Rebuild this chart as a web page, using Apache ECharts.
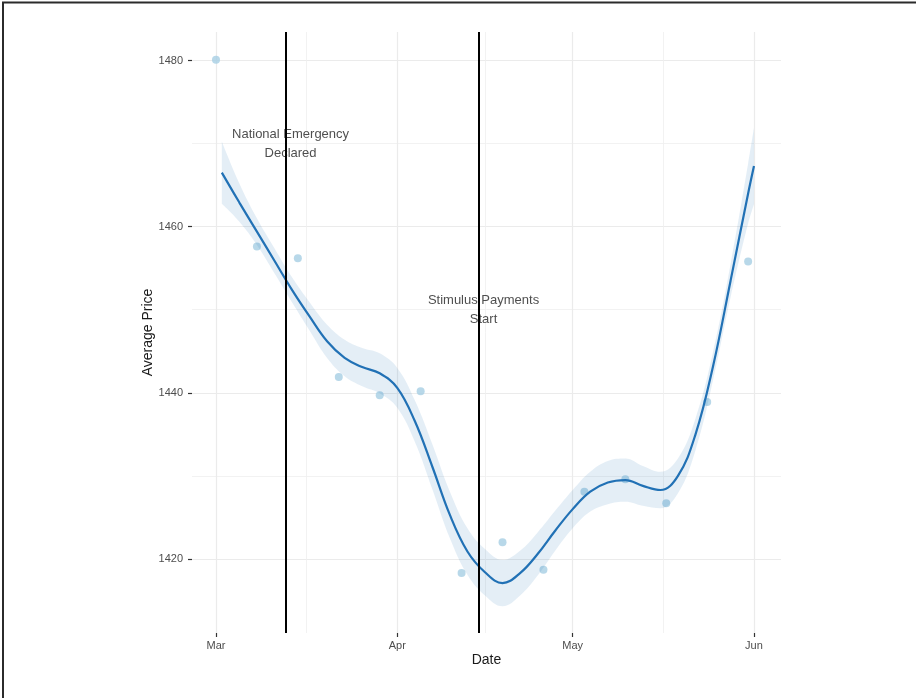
<!DOCTYPE html>
<html><head><meta charset="utf-8">
<script src="https://cdn.jsdelivr.net/npm/echarts@6/dist/echarts.min.js"></script>
<style>html,body{margin:0;padding:0;background:#fff}#c{width:916px;height:698px}</style>
</head><body><div id="c"></div>
<script>
// ---- data ----
const pointDates = ['2020-03-01','2020-03-08','2020-03-15','2020-03-22','2020-03-29','2020-04-05','2020-04-12',
  '2020-04-19','2020-04-26','2020-05-03','2020-05-10','2020-05-17','2020-05-24','2020-05-31'];
const pointValues = [1480.1,1457.6,1456.2,1441.9,1439.7,1440.2,1418.3,1422.0,1418.7,1428.1,1429.6,1426.7,1438.9,1455.8];

const smoothDates = ['2020-03-02','2020-03-05','2020-03-08','2020-03-11','2020-03-14','2020-03-17','2020-03-20',
  '2020-03-23','2020-03-26','2020-03-29','2020-04-01','2020-04-04','2020-04-07','2020-04-10','2020-04-13',
  '2020-04-16','2020-04-19','2020-04-22','2020-04-25','2020-04-28','2020-05-01','2020-05-04','2020-05-07',
  '2020-05-10','2020-05-13','2020-05-16','2020-05-19','2020-05-22','2020-05-25','2020-05-28','2020-05-31','2020-06-01'];
const smoothValues = [1466.5,1462.9,1459.4,1455.9,1452.4,1449.2,1446.2,1444.2,1443.1,1442.35,1440.6,1436.6,1431.1,
  1425.3,1420.9,1418.4,1417.1,1418.3,1420.6,1423.4,1426.0,1428.1,1429.2,1429.5,1428.8,1428.3,1430.0,1435.0,
  1443.2,1453.5,1464.0,1467.3];
const smoothUpper = [1470.25,1465.2,1461.0,1457.4,1453.9,1450.9,1448.2,1446.4,1445.4,1444.75,1443.0,1439.1,1433.8,
  1428.1,1423.7,1421.2,1419.9,1421.0,1423.2,1425.8,1428.3,1430.5,1431.8,1432.1,1431.2,1430.5,1432.1,1436.9,
  1444.9,1455.5,1467.6,1471.9];
const smoothLower = [1462.75,1460.6,1457.8,1454.4,1450.9,1447.5,1444.2,1442.0,1440.8,1439.95,1438.2,1434.1,1428.4,
  1422.5,1418.1,1415.6,1414.3,1415.6,1418.0,1421.0,1423.7,1425.7,1426.6,1426.9,1426.4,1426.1,1427.9,1433.1,
  1441.5,1451.5,1460.4,1462.7];

const eventDates = ['2020-03-13','2020-04-15'];
const annotationDates = ['2020-03-13 18:00','2020-04-15 18:00'];
const annotationValues = [1470, 1450];
const annotationTexts = ['National Emergency\nDeclared','Stimulus Payments\nStart'];

const xTickDates = ['2020-03-01','2020-04-01','2020-05-01','2020-06-01'];
const xTickLabels = ['Mar','Apr','May','Jun'];
const xMinorDates = ['2020-03-16 12:00','2020-04-16 00:00','2020-05-16 12:00'];
const yTicks = [1420,1440,1460,1480];
const yMinor = [1430,1450,1470];

// ---- helpers ----
function t(s){const p=s.split(' ');const d=p[0].split('-').map(Number);let h=0,m=0;
  if(p[1]){const q=p[1].split(':').map(Number);h=q[0];m=q[1];}
  return new Date(d[0],d[1]-1,d[2],h,m).getTime();}
const DAY = 86400000;
const base = t('2020-03-01');
const xMin = base - 4.1*DAY, xMax = base + 96.62*DAY;
const yMin = 1411.09, yMax = 1483.43;
const xTickVals = xTickDates.map(t);
const FONT = 'Liberation Sans, Arial, sans-serif';

const chart = echarts.init(document.getElementById('c'), null, {renderer:'canvas'});
const option = {
  animation:false,
  backgroundColor:'#fff',
  grid:{left:192, right:135, top:32, bottom:65},
  xAxis:[
    // time axis carrying the series (hidden)
    {type:'time', min:xMin, max:xMax, show:true,
     axisLine:{show:false}, axisTick:{show:false}, axisLabel:{show:false}, splitLine:{show:false}},
    // same extent: major ticks / labels / gridlines
    {type:'value', min:xMin, max:xMax, scale:true, position:'bottom',
     axisLine:{show:false},
     axisTick:{show:true, customValues:xTickVals, length:4, lineStyle:{color:'#333', width:1.2}},
     axisLabel:{customValues:xTickVals, color:'#4d4d4d', fontSize:11, fontFamily:FONT, margin:7,
       formatter:function(v){let best=0,bd=Infinity;xTickVals.forEach((tv,i)=>{const d=Math.abs(tv-v);if(d<bd){bd=d;best=i;}});return xTickLabels[best];}},
     splitLine:{show:true, lineStyle:{color:'#ebebeb', width:1.2}},
     name:'Date', nameLocation:'middle', nameGap:20, nameMoveOverlap:false,
     nameTextStyle:{fontSize:14, color:'#1a1a1a', fontFamily:FONT}},
    // minor gridlines
    {type:'value', min:xMin, max:xMax, scale:true, position:'bottom',
     axisLine:{show:false}, axisTick:{show:false, customValues:xMinorDates.map(t)},
     axisLabel:{show:false}, splitLine:{show:true, lineStyle:{color:'#efefef', width:0.8}}}
  ],
  yAxis:[
    {type:'value', min:yMin, max:yMax, scale:true,
     axisLine:{show:false},
     axisTick:{show:true, customValues:yTicks, length:4, lineStyle:{color:'#333', width:1.2}},
     axisLabel:{customValues:yTicks, color:'#4d4d4d', fontSize:11, fontFamily:FONT, margin:9,
       formatter:v=>String(Math.round(v))},
     splitLine:{show:true, lineStyle:{color:'#ebebeb', width:1.2}},
     name:'Average Price', nameLocation:'middle', nameGap:37, nameMoveOverlap:false,
     nameTextStyle:{fontSize:14, color:'#1a1a1a', fontFamily:FONT}},
    {type:'value', min:yMin, max:yMax, scale:true, position:'left',
     axisLine:{show:false}, axisTick:{show:false, customValues:yMinor},
     axisLabel:{show:false}, splitLine:{show:true, lineStyle:{color:'#efefef', width:0.8}}}
  ],
  series:[
    {type:'scatter', name:'points', symbolSize:8, xAxisIndex:0,
     itemStyle:{color:'#a6cee3'}, z:2,
     data:pointDates.map((d,i)=>[t(d), pointValues[i]])},
    {type:'line', name:'ciLower', stack:'ci', smooth:0.4, symbol:'none', z:3, xAxisIndex:0,
     lineStyle:{opacity:0}, data:smoothDates.map((d,i)=>[t(d), smoothLower[i]])},
    {type:'line', name:'ciWidth', stack:'ci', smooth:0.4, symbol:'none', z:3, xAxisIndex:0,
     lineStyle:{opacity:0}, areaStyle:{color:'rgba(33,113,181,0.12)', opacity:1},
     data:smoothDates.map((d,i)=>[t(d), smoothUpper[i]-smoothLower[i]])},
    {type:'line', name:'smooth', smooth:0.4, symbol:'none', z:4, xAxisIndex:0,
     lineStyle:{color:'#2171b5', width:2.2}, data:smoothDates.map((d,i)=>[t(d), smoothValues[i]])},
    {type:'scatter', name:'notes', symbolSize:0, z:5, silent:true, xAxisIndex:0,
     label:{show:true, position:'inside', formatter:p=>p.name, color:'#222', fontSize:13, lineHeight:19, fontFamily:FONT},
     data:annotationDates.map((d,i)=>({name:annotationTexts[i], value:[t(d), annotationValues[i]]})),
     markLine:{silent:true, symbol:['none','none'], label:{show:false}, z:6,
       lineStyle:{color:'#000', width:2, type:'solid'},
       data:eventDates.map(d=>({xAxis:t(d)}))}}
  ],
  graphic:[{type:'polyline', shape:{points:[[3,698],[3,2.5],[916,2.5]]}, style:{stroke:'#2b2b2b', lineWidth:2, fill:null}, silent:true}]
};
chart.setOption(option);
</script></body></html>
